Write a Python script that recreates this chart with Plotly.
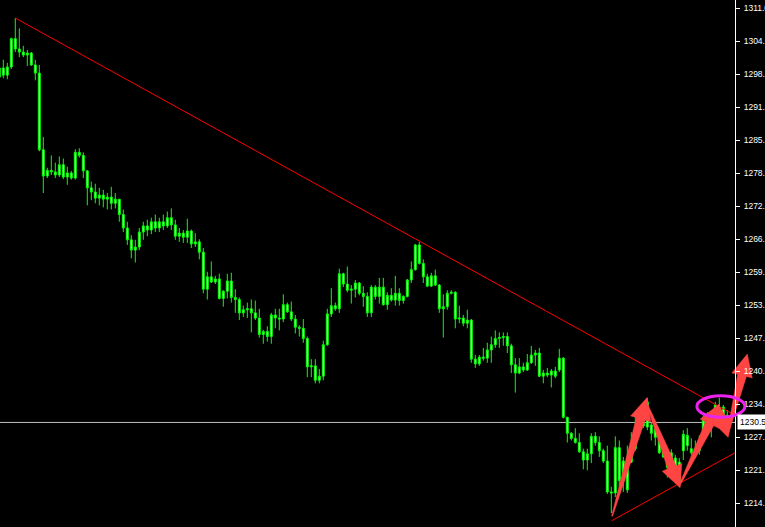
import math
import plotly.graph_objects as go

# ---------------- data ----------------
bar_index = list(range(-1, 182))

opens = [
 1297.6, 1299.4, 1298.0, 1299.6, 1305.1, 1303.1, 1302.5, 1301.9, 1302.3, 1300.0,
 1298.4, 1283.5, 1278.4, 1279.5, 1279.2, 1278.6, 1280.6, 1278.2, 1279.0, 1278.0,
 1283.0, 1282.4, 1279.4, 1276.1, 1275.3, 1274.1, 1274.7, 1273.9, 1274.3, 1273.1,
 1273.9, 1270.9, 1268.3, 1266.0, 1264.0, 1264.6, 1267.5, 1268.7, 1267.9, 1269.5,
 1268.3, 1269.5, 1268.7, 1270.3, 1268.9, 1266.7, 1267.3, 1266.5, 1267.7, 1265.2,
 1265.6, 1263.6, 1256.4, 1258.8, 1257.8, 1258.4, 1254.6, 1256.0, 1258.0, 1254.8,
 1254.4, 1251.8, 1252.4, 1252.6, 1251.8, 1250.8, 1247.6, 1248.2, 1247.2, 1251.4,
 1250.8, 1250.6, 1253.4, 1252.0, 1250.6, 1249.0, 1248.8, 1246.8, 1241.3, 1241.5,
 1238.7, 1239.5, 1245.6, 1251.6, 1253.2, 1252.6, 1259.4, 1257.4, 1256.2, 1256.4,
 1257.6, 1255.6, 1255.0, 1251.8, 1256.8, 1255.0, 1256.8, 1253.4, 1255.2, 1254.3,
 1255.6, 1254.2, 1255.0, 1258.2, 1260.2, 1265.0, 1261.4, 1258.8, 1257.0, 1259.0,
 1257.2, 1252.6, 1253.0, 1255.6, 1255.8, 1250.6, 1250.8, 1249.8, 1250.4, 1242.8,
 1241.9, 1243.2, 1243.0, 1244.6, 1245.6, 1246.8, 1247.0, 1247.2, 1245.4, 1241.7,
 1240.1, 1241.3, 1240.7, 1242.1, 1243.6, 1244.0, 1239.5, 1240.1, 1239.7, 1240.5,
 1240.7, 1243.0, 1231.5, 1228.4, 1227.4, 1226.6, 1224.8, 1223.2, 1224.4, 1227.8,
 1226.6, 1225.0, 1223.0, 1217.0, 1216.8, 1225.6, 1219.2, 1223.0, 1222.8, 1225.4,
 1229.0, 1230.4, 1229.6, 1230.0, 1229.2, 1227.6, 1226.0, 1224.6, 1223.2, 1223.6,
 1222.8, 1225.0, 1226.0, 1225.4, 1224.2, 1225.0, 1229.0, 1230.4, 1230.6, 1231.3,
 1231.3, 1230.4, 1231.9,
]

highs = [
 1300.2, 1301.0, 1300.4, 1305.3, 1309.1, 1307.1, 1303.7, 1302.9, 1302.5, 1301.0,
 1300.0, 1286.0, 1280.0, 1282.4, 1281.0, 1282.2, 1281.8, 1280.2, 1279.4, 1283.6,
 1283.8, 1283.0, 1279.5, 1277.3, 1276.9, 1276.1, 1275.7, 1275.1, 1276.3, 1275.1,
 1273.7, 1271.9, 1269.5, 1266.9, 1266.0, 1268.3, 1269.5, 1269.9, 1270.3, 1270.9,
 1270.3, 1270.9, 1271.5, 1272.1, 1269.9, 1268.3, 1267.9, 1270.1, 1268.0, 1267.3,
 1266.1, 1264.4, 1259.8, 1261.8, 1259.0, 1259.4, 1256.2, 1259.4, 1259.6, 1256.4,
 1254.8, 1253.2, 1253.8, 1254.4, 1254.2, 1252.6, 1248.5, 1249.2, 1251.8, 1252.6,
 1252.6, 1255.4, 1253.8, 1254.0, 1251.4, 1249.4, 1250.6, 1247.2, 1242.8, 1242.8,
 1240.9, 1246.4, 1252.6, 1256.6, 1253.8, 1260.4, 1259.6, 1260.8, 1257.2, 1258.2,
 1257.8, 1257.0, 1255.8, 1257.2, 1257.2, 1258.6, 1258.6, 1255.8, 1256.6, 1259.0,
 1256.6, 1255.2, 1258.4, 1261.8, 1265.2, 1265.6, 1262.2, 1259.4, 1259.6, 1260.2,
 1257.4, 1255.4, 1256.2, 1256.2, 1256.0, 1253.2, 1251.4, 1252.4, 1250.6, 1243.6,
 1243.6, 1245.0, 1246.0, 1247.2, 1248.4, 1248.0, 1248.0, 1248.0, 1245.8, 1243.0,
 1243.0, 1242.1, 1243.8, 1245.4, 1244.6, 1245.0, 1240.7, 1241.1, 1240.9, 1241.3,
 1244.8, 1243.2, 1231.6, 1228.6, 1229.4, 1228.4, 1225.4, 1225.4, 1228.4, 1228.6,
 1227.8, 1225.4, 1226.0, 1218.0, 1227.8, 1227.0, 1223.8, 1226.0, 1228.6, 1231.9,
 1232.5, 1231.3, 1235.3, 1230.6, 1229.4, 1228.4, 1227.0, 1225.3, 1225.3, 1224.2,
 1223.6, 1229.0, 1229.4, 1227.4, 1227.0, 1228.0, 1231.9, 1232.5, 1232.5, 1234.5,
 1235.3, 1233.9, 1232.9,
]

lows = [
 1297.2, 1297.4, 1297.2, 1299.2, 1302.5, 1301.5, 1301.5, 1299.8, 1299.8, 1297.0,
 1283.2, 1275.1, 1278.0, 1278.6, 1278.0, 1278.2, 1277.8, 1276.7, 1277.7, 1277.7,
 1282.0, 1278.0, 1272.7, 1273.7, 1273.1, 1272.7, 1272.3, 1271.9, 1271.9, 1272.1,
 1269.5, 1267.5, 1265.0, 1262.4, 1261.6, 1264.0, 1266.0, 1266.7, 1267.1, 1267.5,
 1267.5, 1267.9, 1268.3, 1267.9, 1266.0, 1265.6, 1265.4, 1265.4, 1264.4, 1264.6,
 1262.2, 1255.6, 1254.4, 1257.6, 1257.4, 1254.4, 1253.0, 1254.6, 1253.8, 1251.8,
 1250.4, 1251.0, 1250.8, 1248.0, 1250.4, 1247.0, 1245.8, 1246.2, 1245.8, 1248.8,
 1248.4, 1250.0, 1251.8, 1250.2, 1247.8, 1247.2, 1246.0, 1239.3, 1239.3, 1238.1,
 1238.1, 1238.7, 1245.4, 1251.0, 1252.2, 1251.8, 1256.8, 1255.8, 1253.6, 1254.8,
 1255.2, 1253.0, 1251.0, 1251.0, 1254.4, 1253.6, 1253.2, 1252.4, 1254.0, 1253.2,
 1253.2, 1253.6, 1254.8, 1257.6, 1260.0, 1261.2, 1257.6, 1256.8, 1256.8, 1257.0,
 1251.8, 1247.0, 1252.4, 1255.4, 1248.8, 1249.8, 1249.2, 1248.8, 1242.1, 1241.1,
 1241.5, 1242.5, 1242.1, 1242.1, 1245.0, 1245.0, 1245.4, 1244.0, 1240.1, 1236.3,
 1239.9, 1240.3, 1240.5, 1241.9, 1241.5, 1239.3, 1238.1, 1239.3, 1237.3, 1239.1,
 1240.3, 1231.3, 1226.6, 1227.0, 1226.4, 1224.6, 1221.4, 1221.2, 1222.6, 1226.0,
 1223.8, 1222.6, 1216.6, 1212.9, 1216.0, 1218.0, 1217.0, 1216.8, 1222.6, 1225.0,
 1228.4, 1229.4, 1229.0, 1227.0, 1226.0, 1224.4, 1223.6, 1219.8, 1222.8, 1219.4,
 1218.0, 1223.2, 1225.0, 1224.2, 1223.6, 1224.2, 1228.4, 1229.4, 1227.6, 1230.6,
 1230.4, 1229.6, 1229.0,
]

closes = [
 1299.4, 1298.0, 1299.6, 1305.1, 1303.1, 1302.5, 1301.9, 1302.3, 1300.0, 1298.4,
 1283.5, 1278.4, 1279.5, 1279.2, 1278.6, 1280.6, 1278.2, 1279.0, 1278.0, 1283.0,
 1282.4, 1279.4, 1276.1, 1275.3, 1274.1, 1274.7, 1273.9, 1274.3, 1273.1, 1273.9,
 1270.9, 1268.3, 1266.0, 1264.0, 1264.6, 1267.5, 1268.7, 1267.9, 1269.5, 1268.3,
 1269.5, 1268.7, 1270.3, 1268.9, 1266.7, 1267.3, 1266.5, 1267.7, 1265.2, 1265.6,
 1263.6, 1256.4, 1258.8, 1257.8, 1258.4, 1254.6, 1256.0, 1258.0, 1254.8, 1254.4,
 1251.8, 1252.4, 1252.6, 1251.8, 1250.8, 1247.6, 1248.2, 1247.2, 1251.4, 1250.8,
 1250.6, 1253.4, 1252.0, 1250.6, 1249.0, 1248.8, 1246.8, 1241.3, 1241.5, 1238.7,
 1239.5, 1245.6, 1251.6, 1253.2, 1252.6, 1259.4, 1257.4, 1256.2, 1256.4, 1257.6,
 1255.6, 1255.0, 1251.8, 1256.8, 1255.0, 1256.8, 1253.4, 1255.2, 1254.3, 1255.6,
 1254.2, 1255.0, 1258.2, 1260.2, 1265.0, 1261.4, 1258.8, 1257.0, 1259.0, 1257.2,
 1252.6, 1253.0, 1255.6, 1255.8, 1250.6, 1250.8, 1249.8, 1250.4, 1242.8, 1241.9,
 1243.2, 1243.0, 1244.6, 1245.6, 1246.8, 1247.0, 1247.2, 1245.4, 1241.7, 1240.1,
 1241.3, 1240.7, 1242.1, 1243.6, 1244.0, 1239.5, 1240.1, 1239.7, 1240.5, 1239.5,
 1243.0, 1231.5, 1228.4, 1227.4, 1226.6, 1224.8, 1223.2, 1224.4, 1227.8, 1226.6,
 1225.0, 1223.0, 1217.0, 1216.8, 1225.6, 1219.2, 1223.0, 1217.4, 1226.4, 1229.4,
 1231.9, 1229.8, 1234.5, 1228.4, 1227.6, 1224.6, 1223.8, 1221.8, 1224.6, 1220.8,
 1218.8, 1228.2, 1228.0, 1224.6, 1225.4, 1227.0, 1231.0, 1231.5, 1231.9, 1233.9,
 1233.5, 1233.5, 1230.5,
]

# price-axis tick labels
tick_values = [1311.05 - 6.414 * k for k in range(16)]
tick_labels = ["1311.0", "1304.6", "1298.2", "1291.8", "1285.4", "1278.9", "1272.6", "1266.2",
               "1259.7", "1253.3", "1247.0", "1240.5", "1234.1", "1227.6", "1221.2", "1214.9"]

current_price = 1230.5
current_label = "1230.5"

# trend lines (bar index, price)
upper_trend_x = [3, 182.9]
upper_trend_y = [1309.1, 1231.9]
lower_trend_x = [152.1, 182.9]
lower_trend_y = [1211.4, 1224.6]

# hand-drawn zig-zag arrows: (tail bar, tail price, tip bar, tip price)
arrows = [
    (152.2, 1212.3, 160.9, 1235.3),
    (160.7, 1234.5, 169.2, 1217.8),
    (169.0, 1218.2, 179.0, 1234.1),
    (179.0, 1233.5, 181.2, 1227.6),
    (181.0, 1228.0, 186.0, 1243.8),
]
# highlight ellipse (bar range, price range)
ellipse = (173.4, 185.4, 1231.5, 1235.7)

# ---------------- layout geometry ----------------
W, H = 765, 527
X0, X1 = -0.825, 190.425
Y0, Y1 = 1210.18, 1312.61
AXIS_PX = 735


def to_px(i, p):
    return ((i - X0) / (X1 - X0) * W, (Y1 - p) / (Y1 - Y0) * H)


def to_data(x, y):
    return (X0 + x / W * (X1 - X0), Y1 - y / H * (Y1 - Y0))


def arrow_poly(tx, tp, hx, hp, w_tail=1.0, w_neck=9.0, head_w=21.0, head_len=22.0):
    x0, y0 = to_px(tx, tp)
    x1, y1 = to_px(hx, hp)
    dx, dy = x1 - x0, y1 - y0
    L = math.hypot(dx, dy)
    ux, uy = dx / L, dy / L
    nx, ny = -uy, ux
    hl = min(head_len, L * 0.6)
    bx, by = x1 - ux * hl, y1 - uy * hl
    pts = [
        (x0 + nx * w_tail / 2, y0 + ny * w_tail / 2),
        (bx + nx * w_neck / 2, by + ny * w_neck / 2),
        (bx + nx * head_w / 2, by + ny * head_w / 2),
        (x1, y1),
        (bx - nx * head_w / 2, by - ny * head_w / 2),
        (bx - nx * w_neck / 2, by - ny * w_neck / 2),
        (x0 - nx * w_tail / 2, y0 - ny * w_tail / 2),
    ]
    pts.append(pts[0])
    d = [to_data(x, y) for x, y in pts]
    return [a for a, _ in d], [b for _, b in d]


fig = go.Figure()

fig.add_trace(go.Candlestick(
    x=bar_index, open=opens, high=highs, low=lows, close=closes,
    increasing=dict(line=dict(color="#00ff00", width=1), fillcolor="#b8ffb8"),
    decreasing=dict(line=dict(color="#00ff00", width=1), fillcolor="#b8ffb8"),
    whiskerwidth=0, showlegend=False, hoverinfo="skip",
))

fig.add_trace(go.Scatter(x=upper_trend_x, y=upper_trend_y, mode="lines",
                         line=dict(color="#ff0000", width=1), showlegend=False, hoverinfo="skip"))
fig.add_trace(go.Scatter(x=lower_trend_x, y=lower_trend_y, mode="lines",
                         line=dict(color="#ff0000", width=1), showlegend=False, hoverinfo="skip"))

for a in arrows:
    xs, ys = arrow_poly(*a)
    fig.add_trace(go.Scatter(x=xs, y=ys, mode="lines", fill="toself",
                             fillcolor="#ff4444", line=dict(color="#ff4444", width=0.5),
                             showlegend=False, hoverinfo="skip"))

axis_bar = to_data(AXIS_PX, 0)[0]

fig.add_shape(type="line", x0=X0, x1=axis_bar, y0=current_price, y1=current_price,
              xref="x", yref="y", line=dict(color="#c0c0c0", width=1), layer="below")

fig.add_shape(type="circle", x0=ellipse[0], x1=ellipse[1], y0=ellipse[2], y1=ellipse[3],
              xref="x", yref="y", line=dict(color="#ee22ee", width=3))

fig.add_annotation(x=(AXIS_PX + 2) / W, xref="paper", y=current_price, yref="y",
                   text=current_label, showarrow=False, xanchor="left", yanchor="middle",
                   font=dict(family="Liberation Sans, Arial, sans-serif", size=8.5, color="#000000"),
                   bgcolor="#ffffff", borderpad=2)

fig.update_layout(
    width=W, height=H,
    margin=dict(l=0, r=0, t=0, b=0, autoexpand=False),
    paper_bgcolor="#000000", plot_bgcolor="#000000",
    xaxis=dict(range=[X0, X1], visible=False, rangeslider=dict(visible=False),
               domain=[0, 1], fixedrange=True, automargin=False),
    yaxis=dict(range=[Y0, Y1], anchor="free", position=AXIS_PX / W, side="right",
               automargin=False,
               showgrid=False, zeroline=False, showline=True, linecolor="#ffffff", linewidth=1,
               ticks="outside", ticklen=4, tickcolor="#ffffff", ticklabelstandoff=2,
               tickvals=tick_values, ticktext=tick_labels,
               tickfont=dict(family="Liberation Sans, Arial, sans-serif", size=8.5, color="#ffffff")),
    showlegend=False,
)

fig.write_html(
    "out.html",
    config={"displayModeBar": False, "staticPlot": True},
    post_script="document.body.style.margin='0';document.body.style.padding='0';"
                "document.body.style.background='#000';document.body.style.overflow='hidden';",
)
